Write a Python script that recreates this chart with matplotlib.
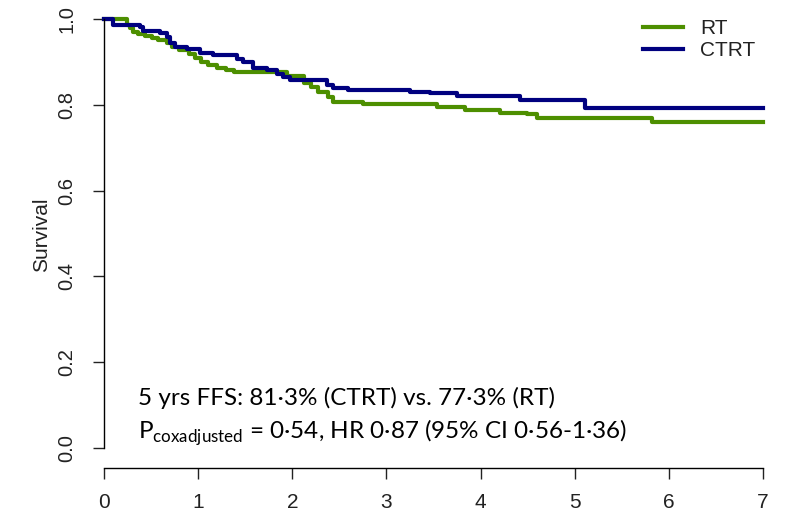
import matplotlib
matplotlib.use("Agg")
import matplotlib.pyplot as plt

# Kaplan-Meier style step curves (time in years, survival)
rt_time = [0, 0.24, 0.28, 0.31, 0.36, 0.44, 0.51, 0.57, 0.67, 0.72, 0.80, 0.90,
           0.97, 1.03, 1.10, 1.20, 1.30, 1.38, 1.94, 2.12, 2.20, 2.27, 2.38, 2.43,
           2.75, 3.54, 3.83, 4.21, 4.49, 4.60, 5.82, 7.0]
rt_surv = [1.0, 0.987, 0.980, 0.971, 0.966, 0.961, 0.956, 0.952, 0.945, 0.936, 0.929, 0.919,
           0.910, 0.901, 0.894, 0.886, 0.881, 0.877, 0.868, 0.851, 0.842, 0.830, 0.819, 0.807,
           0.803, 0.795, 0.788, 0.781, 0.779, 0.770, 0.760, 0.760]

ctrt_time = [0, 0.10, 0.38, 0.41, 0.60, 0.67, 0.70, 0.75, 0.88, 1.02, 1.16, 1.41,
             1.48, 1.58, 1.73, 1.84, 1.90, 1.98, 2.37, 2.43, 2.59, 3.25, 3.46, 3.75,
             4.42, 5.11, 7.0]
ctrt_surv = [1.0, 0.987, 0.981, 0.973, 0.968, 0.959, 0.945, 0.935, 0.931, 0.921, 0.917, 0.907,
             0.900, 0.886, 0.882, 0.872, 0.865, 0.858, 0.847, 0.840, 0.835, 0.830, 0.828, 0.821,
             0.812, 0.793, 0.793]

x_ticks = [0, 1, 2, 3, 4, 5, 6, 7]
y_ticks = [0.0, 0.2, 0.4, 0.6, 0.8, 1.0]
y_labels = ["0.0", "0.2", "0.4", "0.6", "0.8", "1.0"]

line1 = "5 yrs FFS: 81·3% (CTRT) vs. 77·3% (RT)"
line2 = r"P$_{\mathrm{coxadjusted}}$ = 0·54, HR 0·87 (95% CI 0·56-1·36)"

plt.rcParams["mathtext.fontset"] = "custom"
plt.rcParams["mathtext.rm"] = "Lato"

fig = plt.figure(figsize=(7.85, 5.21), dpi=100)
ax = fig.add_axes([104 / 785, 1 - 468 / 521, 659 / 785, (468 - 19.3) / 521])

ax.step(rt_time, rt_surv, where="post", color="#4d8f00", lw=3, label="RT", clip_on=False)
ax.step(ctrt_time, ctrt_surv, where="post", color="#00007f", lw=3, label="CTRT", clip_on=False)

ax.set_xlim(0, 7)
ax.set_ylim(-0.047, 1.0)
for s in ["top", "right"]:
    ax.spines[s].set_visible(False)
ax.spines["left"].set_bounds(0, 1)
ax.spines["bottom"].set_bounds(0, 7)
ax.spines["left"].set_linewidth(1)
ax.spines["bottom"].set_linewidth(1)

ax.set_xticks(x_ticks)
ax.set_xticklabels([str(v) for v in x_ticks], family="Liberation Sans", fontsize=15)
ax.set_yticks(y_ticks)
ax.set_yticklabels(y_labels, family="Liberation Sans", fontsize=14.5,
                   rotation=90, va="center")
ax.tick_params(axis="x", length=8, width=1, pad=10, colors="#222222")
ax.tick_params(axis="y", length=8, width=1, pad=12, colors="#222222")

ax.set_ylabel("Survival", family="Liberation Sans", fontsize=15, color="#222222")
ax.yaxis.set_label_coords(-0.08, 0.52)

leg = ax.legend(loc="center left", bbox_to_anchor=(643 / 785, 1 - 39.5 / 521),
                bbox_transform=fig.transFigure, frameon=False,
                prop={"family": "Liberation Sans", "size": 15},
                handlelength=1.9, handletextpad=0.85, labelspacing=0.15,
                borderpad=0, borderaxespad=0)
for t in leg.get_texts():
    t.set_color("#222222")

ax.text(0.36, 0.100, line1, family="Lato", fontsize=17.5, va="baseline", color="black")
ax.text(0.36, 0.020, line2, family="Lato", fontsize=17.5, va="baseline", color="black")

fig.savefig("out.png", dpi=100)
